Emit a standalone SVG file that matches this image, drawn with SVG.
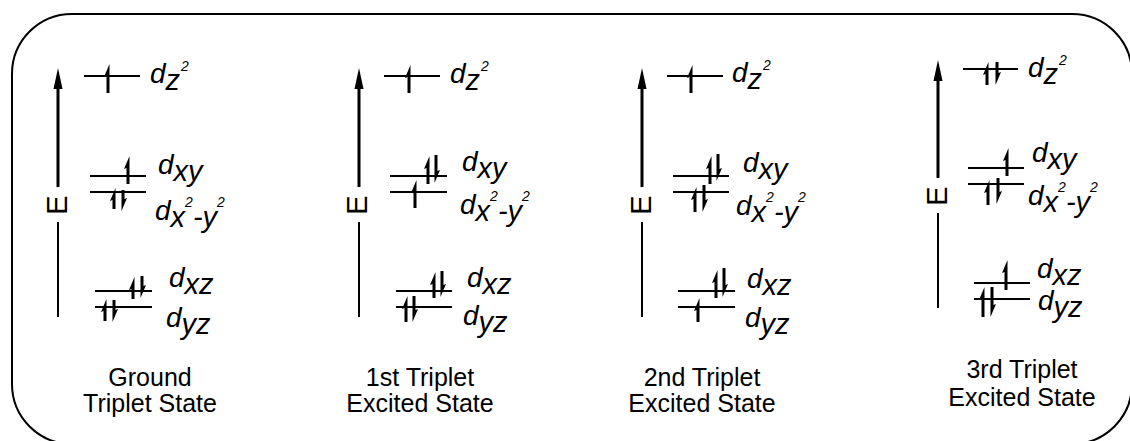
<svg xmlns="http://www.w3.org/2000/svg" width="1130" height="441" viewBox="0 0 1130 441">
<style>
.lv{stroke:#000;stroke-width:2;fill:none}
.e{fill:#000;stroke:none}
.ax{stroke:#000;fill:none}
.l{font-family:"Liberation Sans",Arial,sans-serif;font-style:italic;font-size:28px;fill:#000}
.b{font-size:29px}
.s{font-size:14px}
.E{font-family:"Liberation Sans",Arial,sans-serif;font-size:29px;fill:#000}
.c{font-family:"Liberation Sans",Arial,sans-serif;font-size:25px;fill:#000;text-anchor:middle}
</style>
<rect x="12" y="14" width="1120" height="430" rx="60" ry="60" fill="none" stroke="#000" stroke-width="2"/>

<g id="connectors">
<path class="ax" stroke-width="3" d="M58 187 V88"/><path class="e" d="M58 68 L62.5 89 L53.5 89 Z"/>
<path class="ax" stroke-width="2" d="M58 222 V317"/>
<path class="ax" stroke-width="3" d="M359 187 V88"/><path class="e" d="M359 68 L363.5 89 L354.5 89 Z"/>
<path class="ax" stroke-width="2" d="M359 222 V317"/>
<path class="ax" stroke-width="3" d="M642 187 V88"/><path class="e" d="M642 68 L646.5 89 L637.5 89 Z"/>
<path class="ax" stroke-width="2" d="M642 222 V317"/>
<path class="ax" stroke-width="3" d="M938 178 V80"/><path class="e" d="M938 60 L942.5 81 L933.5 81 Z"/>
<path class="ax" stroke-width="2" d="M938 213 V308"/>
</g>

<g id="panel1">
<text class="E" transform="translate(67,205) rotate(-90)" text-anchor="middle">E</text>
<g id="p1-dz2"><path class="lv" d="M84 76 H140"/><path class="e" d="M109.5 93 L109.5 64 L104 77 L106.5 76 L106.5 93 Z"/>
<text class="l" x="150" y="83">d<tspan class="b" dy="7">z</tspan><tspan class="s" dy="-19" dx="1">2</tspan></text></g>
<g id="p1-dxy"><path class="lv" d="M90 176 H146"/><path class="e" d="M129.5 184 L129.5 156 L124 169 L126.5 168 L126.5 184 Z"/>
<text class="l" x="158" y="174">d<tspan class="b" dy="7">xy</tspan></text></g>
<g id="p1-dx2y2"><path class="lv" d="M90 192 H146"/><path class="e" d="M115.5 209 L115.5 188 L110 201 L112.5 200 L112.5 209 Z"/><path class="e" d="M121.5 190 L121.5 211 L127 198 L124.5 199 L124.5 190 Z"/>
<text class="l" x="155" y="220">d<tspan class="b" dy="7">x</tspan><tspan class="s" dy="-20">2</tspan><tspan class="b" dy="20">-y</tspan><tspan class="s" dy="-20">2</tspan></text></g>
<g id="p1-dxz"><path class="lv" d="M95 291 H152"/><path class="e" d="M134.5 299 L134.5 277 L129 290 L131.5 289 L131.5 299 Z"/><path class="e" d="M140.5 276 L140.5 298 L146 285 L143.5 286 L143.5 276 Z"/>
<text class="l" x="169" y="287">d<tspan class="b" dy="7">xz</tspan></text></g>
<g id="p1-dyz"><path class="lv" d="M95 307 H152"/><path class="e" d="M106.5 321 L106.5 299 L101 312 L103.5 311 L103.5 321 Z"/><path class="e" d="M112.5 300 L112.5 322 L118 309 L115.5 310 L115.5 300 Z"/>
<text class="l" x="166" y="327">d<tspan class="b" dy="7">yz</tspan></text></g>
<text class="c" x="150" y="386">Ground</text>
<text class="c" x="150" y="412">Triplet State</text>
</g>

<g id="panel2">
<text class="E" transform="translate(367,205) rotate(-90)" text-anchor="middle">E</text>
<g id="p2-dz2"><path class="lv" d="M384 76 H440"/><path class="e" d="M410.5 93 L410.5 65 L405 78 L407.5 77 L407.5 93 Z"/>
<text class="l" x="450" y="83">d<tspan class="b" dy="7">z</tspan><tspan class="s" dy="-19" dx="1">2</tspan></text></g>
<g id="p2-dxy"><path class="lv" d="M390 176 H447"/><path class="e" d="M429.5 184 L429.5 156 L424 169 L426.5 168 L426.5 184 Z"/><path class="e" d="M434.5 155 L434.5 183 L440 170 L437.5 171 L437.5 155 Z"/>
<text class="l" x="462" y="171">d<tspan class="b" dy="7">xy</tspan></text></g>
<g id="p2-dx2y2"><path class="lv" d="M390 192 H447"/><path class="e" d="M416.5 208 L416.5 180 L411 193 L413.5 192 L413.5 208 Z"/>
<text class="l" x="460" y="214">d<tspan class="b" dy="7">x</tspan><tspan class="s" dy="-20">2</tspan><tspan class="b" dy="20">-y</tspan><tspan class="s" dy="-20">2</tspan></text></g>
<g id="p2-dxz"><path class="lv" d="M396 291 H452"/><path class="e" d="M435.5 298 L435.5 272 L430 285 L432.5 284 L432.5 298 Z"/><path class="e" d="M440.5 271 L440.5 297 L446 284 L443.5 285 L443.5 271 Z"/>
<text class="l" x="467" y="287">d<tspan class="b" dy="7">xz</tspan></text></g>
<g id="p2-dyz"><path class="lv" d="M396 307 H452"/><path class="e" d="M407.5 322 L407.5 296 L402 309 L404.5 308 L404.5 322 Z"/><path class="e" d="M412.5 296 L412.5 322 L418 309 L415.5 310 L415.5 296 Z"/>
<text class="l" x="463" y="325">d<tspan class="b" dy="7">yz</tspan></text></g>
<text class="c" x="420" y="386">1st Triplet</text>
<text class="c" x="420" y="412">Excited State</text>
</g>

<g id="panel3">
<text class="E" transform="translate(651,205) rotate(-90)" text-anchor="middle">E</text>
<g id="p3-dz2"><path class="lv" d="M667 76 H723"/><path class="e" d="M692.5 93 L692.5 65 L687 78 L689.5 77 L689.5 93 Z"/>
<text class="l" x="732" y="82">d<tspan class="b" dy="7">z</tspan><tspan class="s" dy="-19" dx="1">2</tspan></text></g>
<g id="p3-dxy"><path class="lv" d="M673 176 H729"/><path class="e" d="M711.5 184 L711.5 156 L706 169 L708.5 168 L708.5 184 Z"/><path class="e" d="M716.5 154 L716.5 181 L722 168 L719.5 169 L719.5 154 Z"/>
<text class="l" x="743" y="172">d<tspan class="b" dy="7">xy</tspan></text></g>
<g id="p3-dx2y2"><path class="lv" d="M673 192 H729"/><path class="e" d="M696.5 212 L696.5 187 L691 200 L693.5 199 L693.5 212 Z"/><path class="e" d="M702.5 185 L702.5 212 L708 199 L705.5 200 L705.5 185 Z"/>
<text class="l" x="736" y="215">d<tspan class="b" dy="7">x</tspan><tspan class="s" dy="-20">2</tspan><tspan class="b" dy="20">-y</tspan><tspan class="s" dy="-20">2</tspan></text></g>
<g id="p3-dxz"><path class="lv" d="M678 291 H735"/><path class="e" d="M717.5 298 L717.5 270 L712 283 L714.5 282 L714.5 298 Z"/><path class="e" d="M722.5 268 L722.5 297 L728 284 L725.5 285 L725.5 268 Z"/>
<text class="l" x="747" y="288">d<tspan class="b" dy="7">xz</tspan></text></g>
<g id="p3-dyz"><path class="lv" d="M678 307 H735"/><path class="e" d="M699.5 322 L699.5 298 L694 311 L696.5 310 L696.5 322 Z"/>
<text class="l" x="745" y="327">d<tspan class="b" dy="7">yz</tspan></text></g>
<text class="c" x="702" y="386">2nd Triplet</text>
<text class="c" x="702" y="412">Excited State</text>
</g>

<g id="panel4">
<text class="E" transform="translate(947,196) rotate(-90)" text-anchor="middle">E</text>
<g id="p4-dz2"><path class="lv" d="M963 69 H1018"/><path class="e" d="M988.5 85 L988.5 62 L983 75 L985.5 74 L985.5 85 Z"/><path class="e" d="M995.5 62 L995.5 85 L1001 72 L998.5 73 L998.5 62 Z"/>
<text class="l" x="1028" y="77">d<tspan class="b" dy="7">z</tspan><tspan class="s" dy="-19" dx="1">2</tspan></text></g>
<g id="p4-dxy"><path class="lv" d="M968 168 H1024"/><path class="e" d="M1008.5 176 L1008.5 148 L1003 161 L1005.5 160 L1005.5 176 Z"/>
<text class="l" x="1032" y="162">d<tspan class="b" dy="7">xy</tspan></text></g>
<g id="p4-dx2y2"><path class="lv" d="M968 184 H1024"/><path class="e" d="M989.5 205 L989.5 180 L984 193 L986.5 192 L986.5 205 Z"/><path class="e" d="M996.5 178 L996.5 204 L1002 191 L999.5 192 L999.5 178 Z"/>
<text class="l" x="1028" y="205">d<tspan class="b" dy="7">x</tspan><tspan class="s" dy="-20">2</tspan><tspan class="b" dy="20">-y</tspan><tspan class="s" dy="-20">2</tspan></text></g>
<g id="p4-dxz"><path class="lv" d="M974 283 H1030"/><path class="e" d="M1007.5 290 L1007.5 260 L1002 273 L1004.5 272 L1004.5 290 Z"/>
<text class="l" x="1037" y="278">d<tspan class="b" dy="7">xz</tspan></text></g>
<g id="p4-dyz"><path class="lv" d="M974 299 H1030"/><path class="e" d="M984.5 317 L984.5 287 L979 300 L981.5 299 L981.5 317 Z"/><path class="e" d="M990.5 287 L990.5 317 L996 304 L993.5 305 L993.5 287 Z"/>
<text class="l" x="1038" y="310">d<tspan class="b" dy="7">yz</tspan></text></g>
<text class="c" x="1022" y="378">3rd Triplet</text>
<text class="c" x="1022" y="406">Excited State</text>
</g>
</svg>
